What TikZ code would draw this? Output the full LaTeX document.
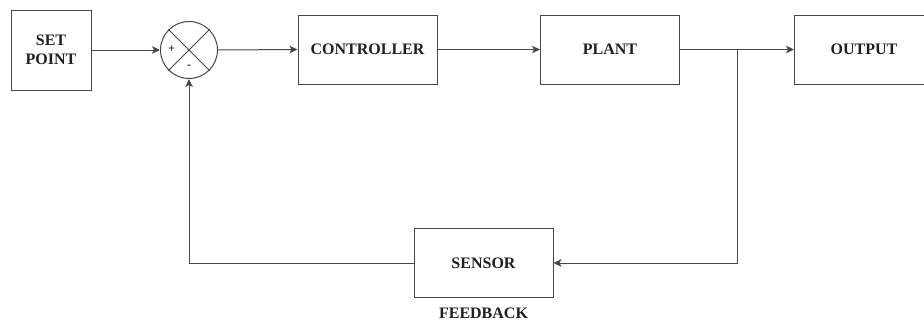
\documentclass[tikz,border=0pt]{standalone}
\usepackage{fontspec}
\setmainfont{Liberation Serif}
\usetikzlibrary{arrows.meta}
\begin{document}
\begin{tikzpicture}[x=1pt,y=1pt,
  blk/.style={draw=black!72, line width=1pt, minimum width=139pt, minimum height=69pt, inner sep=0pt, font=\fontsize{16}{18}\selectfont\bfseries, text=black!88},
  conn/.style={draw=black!72, line width=1pt, -{Stealth[length=8pt,width=7.5pt,inset=2pt]}},
  wire/.style={draw=black!72, line width=1pt}]
\useasboundingbox (0,0) rectangle (924,325);
\node[blk, minimum width=80pt, minimum height=80pt, align=center, font=\fontsize{16}{19}\selectfont\bfseries] (sp) at (51,275) {SET\\POINT};
\node[draw=black!72, line width=1pt, circle, minimum size=57pt, inner sep=0pt] (sum) at (189,275) {};
\draw[wire] (sum.north west) -- (sum.south east);
\draw[wire] (sum.north east) -- (sum.south west);
\node[font=\fontsize{12}{12}\selectfont\bfseries, text=black!88] (plus) at (171.5,276) {+};
\node[font=\fontsize{12}{12}\selectfont\bfseries, text=black!88] (minus) at (189,258) {-};
\node[blk] (ctrl) at (367.5,275.5) {CONTROLLER};
\node[blk] (plant) at (610,275.5) {PLANT};
\node[blk] (out) at (864,275.5) {OUTPUT};
\node[blk] (sens) at (483.5,62) {SENSOR};
\node[font=\fontsize{16}{18}\selectfont\bfseries, text=black!88] (fb) at (483.5,12) {FEEDBACK};
\coordinate (br) at (737,275.5);
\coordinate (bl) at (737,62);
\coordinate (fl) at (189,62);
\draw[conn] (sp.east |- sum.west) -- (sum.west);
\draw[conn] (sum.east) -- (ctrl.west);
\draw[conn] (ctrl.east) -- (plant.west);
\draw[conn] (plant.east) -- (out.west);
\draw[conn] (br) -- (bl) -- (sens.east);
\draw[conn] (sens.west) -- (fl) -- (sum.south);
\end{tikzpicture}
\end{document}
